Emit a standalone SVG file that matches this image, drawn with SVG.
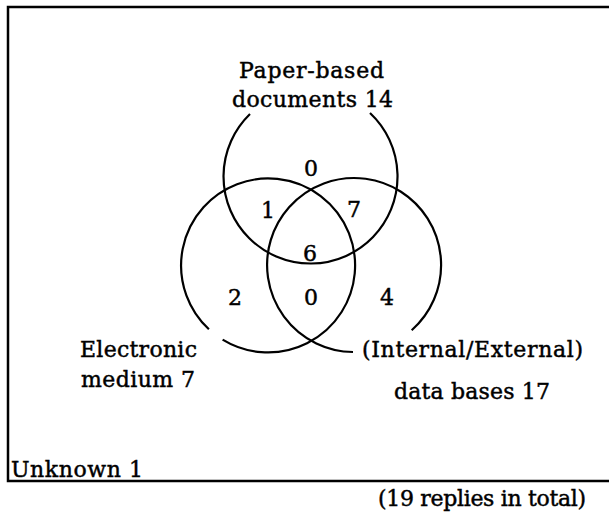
<svg xmlns="http://www.w3.org/2000/svg" width="609" height="513" viewBox="0 0 609 513">
<style>
.c{fill:none;stroke:#000;stroke-width:2.2}
text{font-family:"DejaVu Serif","Liberation Serif",serif;font-size:22px;fill:#000;stroke:#000;stroke-width:0.45}
.m{text-anchor:middle}
</style>
<rect width="609" height="513" fill="#fff"/>
<g id="frame">
<path d="M609 7 H8 V481 H609" fill="none" stroke="#000" stroke-width="2.5"/>
<text x="11" y="477" textLength="132">Unknown 1</text>
</g>
<g id="paper">
<path class="c" d="M250 114 A87 87 0 1 0 370 113"/>
<text class="m" x="311.5" y="78" textLength="145">Paper-based</text>
<text class="m" x="312.5" y="107" textLength="161">documents 14</text>
</g>
<g id="electronic">
<path class="c" d="M208.9 329.2 A87 87 0 1 1 222.6 339.6"/>
<text x="80" y="357" textLength="117">Electronic</text>
<text x="81" y="387" textLength="114">medium 7</text>
</g>
<g id="databases">
<path class="c" d="M411.7 330.2 A87 87 0 1 0 353 352"/>
<text x="362" y="357" textLength="221">(Internal/External)</text>
<text x="394" y="399" textLength="156">data bases 17</text>
</g>
<g id="regions">
<text class="m" x="311" y="176">0</text>
<text class="m" x="268" y="218">1</text>
<text class="m" x="354" y="217">7</text>
<text class="m" x="310" y="261">6</text>
<text class="m" x="235" y="305">2</text>
<text class="m" x="311" y="305">0</text>
<text class="m" x="387" y="305">4</text>
</g>
<g id="note">
<text x="378" y="506" textLength="208">(19 replies in total)</text>
</g>
</svg>
